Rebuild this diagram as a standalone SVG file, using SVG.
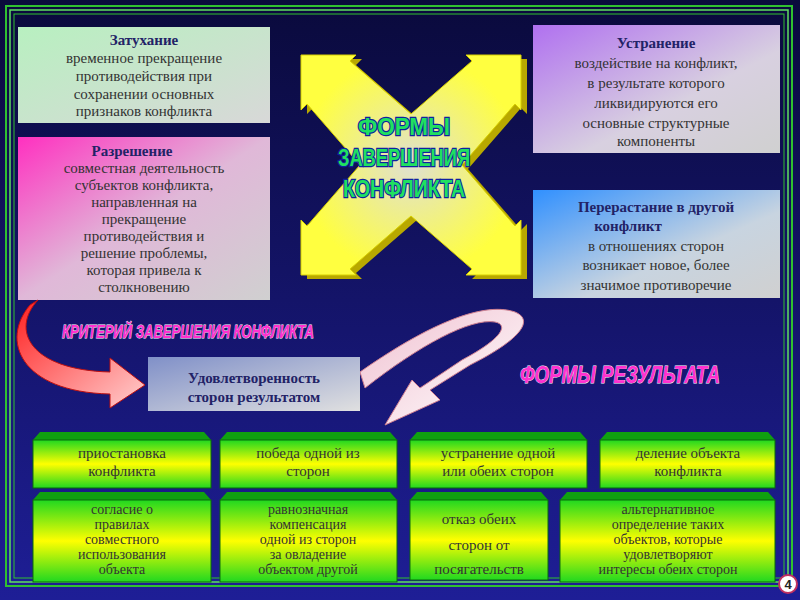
<svg xmlns="http://www.w3.org/2000/svg" width="800" height="600" viewBox="0 0 800 600">
<defs>
<linearGradient id="bg" x1="0" y1="0" x2="0" y2="1"><stop offset="0" stop-color="#0a0a3c"/><stop offset="1" stop-color="#1e1e96"/></linearGradient>
<linearGradient id="gTop" x1="0" y1="0" x2="1" y2="1"><stop offset="0" stop-color="#b8f0c0"/><stop offset="1" stop-color="#d8d8d8"/></linearGradient>
<linearGradient id="gPink" x1="0" y1="0" x2="1" y2="1"><stop offset="0" stop-color="#ff30c0"/><stop offset="0.5" stop-color="#e0b8d8"/><stop offset="1" stop-color="#d0d0d0"/></linearGradient>
<linearGradient id="gPurple" x1="0" y1="0" x2="1" y2="1"><stop offset="0" stop-color="#b070f0"/><stop offset="0.6" stop-color="#d8d0e0"/><stop offset="1" stop-color="#d0d0d0"/></linearGradient>
<linearGradient id="gBlue" x1="0" y1="0" x2="1" y2="1"><stop offset="0" stop-color="#3090ff"/><stop offset="0.6" stop-color="#c8d4e0"/><stop offset="1" stop-color="#d0d0d0"/></linearGradient>
<linearGradient id="gMid" x1="0" y1="0" x2="1" y2="1"><stop offset="0" stop-color="#8090c8"/><stop offset="1" stop-color="#e0e0e0"/></linearGradient>
<linearGradient id="gGreen" x1="0" y1="0" x2="0" y2="1"><stop offset="0" stop-color="#20d820"/><stop offset="0.5" stop-color="#ffff00"/><stop offset="1" stop-color="#20d820"/></linearGradient>
<radialGradient id="gStar" cx="0.5" cy="0.5" r="0.5"><stop offset="0" stop-color="#e0e0d0"/><stop offset="1" stop-color="#ffff40"/></radialGradient>
<linearGradient id="gRed" x1="0" y1="0" x2="1" y2="1"><stop offset="0" stop-color="#ff2020"/><stop offset="1" stop-color="#ffd0d0"/></linearGradient>
<linearGradient id="gPale" x1="0" y1="0" x2="1" y2="1"><stop offset="0" stop-color="#f0c0d0"/><stop offset="1" stop-color="#ffffff"/></linearGradient>
</defs>
<style>
.t{font-family:"Liberation Serif",serif;font-size:15px;fill:#333;text-anchor:middle}
.b{font-weight:bold;fill:#222266}
.bt{font-family:"Liberation Serif",serif;font-size:15px;fill:#333;text-anchor:middle}
.sm{font-size:14px}
.hd{font-family:"Liberation Sans",sans-serif;font-weight:bold;font-style:italic;fill:#ff30d0;stroke:#fff;stroke-width:0.8;paint-order:stroke}
.gb{stroke:#0a6a0a;stroke-width:1}
.cap{fill:#10a010}
.ct{fill:#20e060;stroke:#1020a0;stroke-width:2.5;paint-order:stroke}
</style>
<rect width="800" height="600" fill="url(#bg)"/>
<rect x="6" y="6" width="786" height="580" fill="none" stroke="#30c030" stroke-width="2"/>
<rect x="10" y="10" width="778" height="572" fill="none" stroke="#60e060" stroke-width="1.5"/>
<rect x="14" y="14" width="770" height="564" fill="none" stroke="#30c030" stroke-width="1"/>

<g id="zatukhanie">
<rect x="18" y="27" width="252" height="96" fill="url(#gTop)"/>
<text class="t"><tspan class="b" x="144" y="45">Затухание</tspan><tspan x="144" y="63">временное прекращение</tspan><tspan x="144" y="81">противодействия при</tspan><tspan x="144" y="99">сохранении основных</tspan><tspan x="144" y="116">признаков конфликта</tspan></text>
</g>
<g id="razreshenie">
<rect x="18" y="137" width="252" height="163" fill="url(#gPink)"/>
<text class="t"><tspan class="b" x="132" y="156">Разрешение</tspan><tspan x="144" y="173">совместная деятельность</tspan><tspan x="144" y="190">субъектов конфликта,</tspan><tspan x="144" y="207">направленная на</tspan><tspan x="144" y="224">прекращение</tspan><tspan x="144" y="241">противодействия и</tspan><tspan x="144" y="258">решение проблемы,</tspan><tspan x="144" y="275">которая привела к</tspan><tspan x="144" y="292">столкновению</tspan></text>
</g>
<g id="ustranenie">
<rect x="533" y="25" width="247" height="128" fill="url(#gPurple)"/>
<text class="t"><tspan class="b" x="656" y="48">Устранение</tspan><tspan x="656" y="68">воздействие на конфликт,</tspan><tspan x="656" y="88">в результате которого</tspan><tspan x="656" y="108">ликвидируются его</tspan><tspan x="656" y="128">основные структурные</tspan><tspan x="656" y="146">компоненты</tspan></text>
</g>
<g id="pererastanie">
<rect x="533" y="190" width="247" height="108" fill="url(#gBlue)"/>
<text class="t"><tspan class="b" x="656" y="212">Перерастание в другой</tspan><tspan class="b" x="628" y="231">конфликт</tspan><tspan x="656" y="251">в отношениях сторон</tspan><tspan x="656" y="270">возникает новое, более</tspan><tspan x="656" y="290">значимое противоречие</tspan></text>
</g>

<g id="center">
<polygon transform="translate(6,4)" fill="#b8a800" points="301,55 356,55 350,61 411,114 472,61 466,55 521,55 521,110 515,104 462,165 515,226 521,220 521,275 466,275 472,269 411,216 350,269 356,275 301,275 301,220 307,226 360,165 307,104 301,110"/>
<polygon fill="url(#gStar)" stroke="#d8d000" points="301,55 356,55 350,61 411,114 472,61 466,55 521,55 521,110 515,104 462,165 515,226 521,220 521,275 466,275 472,269 411,216 350,269 356,275 301,275 301,220 307,226 360,165 307,104 301,110"/>
<g font-family="Liberation Sans,sans-serif" font-weight="bold" font-size="24" text-anchor="middle">
<text class="ct" x="404" y="135" textLength="92" lengthAdjust="spacingAndGlyphs">ФОРМЫ</text>
<text class="ct" x="404" y="166" textLength="132" lengthAdjust="spacingAndGlyphs">ЗАВЕРШЕНИЯ</text>
<text class="ct" x="404" y="197" textLength="122" lengthAdjust="spacingAndGlyphs">КОНФЛИКТА</text>
</g>
</g>

<text class="hd" x="188" y="338" font-size="19" text-anchor="middle" textLength="252" lengthAdjust="spacingAndGlyphs">КРИТЕРИЙ ЗАВЕРШЕНИЯ КОНФЛИКТА</text>
<text class="hd" x="620" y="383" font-size="23" text-anchor="middle" textLength="200" lengthAdjust="spacingAndGlyphs">ФОРМЫ РЕЗУЛЬТАТА</text>

<g id="connectors">
<path d="M38,300 C10,330 30,370 110,372 L110,358 L145,385 L110,408 L110,394 C20,392 0,340 30,305 Z" fill="url(#gRed)" stroke="#c01010" stroke-width="1"/>
<path d="M360,372 C420,330 480,300 515,312 C535,320 520,340 470,365 L430,390 L440,400 L385,425 L412,380 L420,388 L462,360 C500,340 510,325 495,322 C470,318 420,345 365,388 Z" fill="url(#gPale)" stroke="#d08090" stroke-width="1"/>
</g>

<g id="udovl">
<rect x="148" y="357" width="212" height="54" fill="url(#gMid)"/>
<text class="t"><tspan class="b" x="254" y="383">Удовлетворенность</tspan><tspan class="b" x="254" y="402">сторон результатом</tspan></text>
</g>

<g id="r1">
<g id="b1"><polygon class="cap" points="33,440 40,432 204,432 211,440"/><rect class="gb" x="33" y="440" width="178" height="48" fill="url(#gGreen)"/><text class="bt"><tspan x="122" y="458">приостановка</tspan><tspan x="122" y="476">конфликта</tspan></text></g>
<g id="b2"><polygon class="cap" points="220,440 227,432 390,432 397,440"/><rect class="gb" x="220" y="440" width="177" height="48" fill="url(#gGreen)"/><text class="bt"><tspan x="308" y="458">победа одной из</tspan><tspan x="308" y="476">сторон</tspan></text></g>
<g id="b3"><polygon class="cap" points="410,440 417,432 580,432 587,440"/><rect class="gb" x="410" y="440" width="177" height="48" fill="url(#gGreen)"/><text class="bt"><tspan x="498" y="458">устранение одной</tspan><tspan x="498" y="476">или обеих сторон</tspan></text></g>
<g id="b4"><polygon class="cap" points="600,440 607,432 768,432 775,440"/><rect class="gb" x="600" y="440" width="175" height="48" fill="url(#gGreen)"/><text class="bt"><tspan x="688" y="458">деление объекта</tspan><tspan x="688" y="476">конфликта</tspan></text></g>
</g>
<g id="r2">
<g id="b5"><polygon class="cap" points="33,500 40,492 204,492 211,500"/><rect class="gb" x="33" y="500" width="178" height="82" fill="url(#gGreen)"/><text class="bt sm"><tspan x="122" y="514">согласие о</tspan><tspan x="122" y="529">правилах</tspan><tspan x="122" y="544">совместного</tspan><tspan x="122" y="559">использования</tspan><tspan x="122" y="574">объекта</tspan></text></g>
<g id="b6"><polygon class="cap" points="220,500 227,492 390,492 397,500"/><rect class="gb" x="220" y="500" width="177" height="82" fill="url(#gGreen)"/><text class="bt sm"><tspan x="308" y="514">равнозначная</tspan><tspan x="308" y="529">компенсация</tspan><tspan x="308" y="544">одной из сторон</tspan><tspan x="308" y="559">за овладение</tspan><tspan x="308" y="574">объектом другой</tspan></text></g>
<g id="b7"><polygon class="cap" points="410,500 417,492 541,492 548,500"/><rect class="gb" x="410" y="500" width="138" height="80" fill="url(#gGreen)"/><text class="bt"><tspan x="479" y="524">отказ обеих</tspan><tspan x="479" y="550">сторон от</tspan><tspan x="479" y="574">посягательств</tspan></text></g>
<g id="b8"><polygon class="cap" points="560,500 567,492 768,492 775,500"/><rect class="gb" x="560" y="500" width="215" height="82" fill="url(#gGreen)"/><text class="bt sm"><tspan x="668" y="514">альтернативное</tspan><tspan x="668" y="529">определение таких</tspan><tspan x="668" y="544">объектов, которые</tspan><tspan x="668" y="559">удовлетворяют</tspan><tspan x="668" y="574">интересы обеих сторон</tspan></text></g>
</g>

<circle cx="788" cy="584" r="9" fill="#fff" stroke="#c03060" stroke-width="2"/>
<text x="788" y="589" font-family="Liberation Sans,sans-serif" font-weight="bold" font-size="13" text-anchor="middle" fill="#222">4</text>
</svg>
